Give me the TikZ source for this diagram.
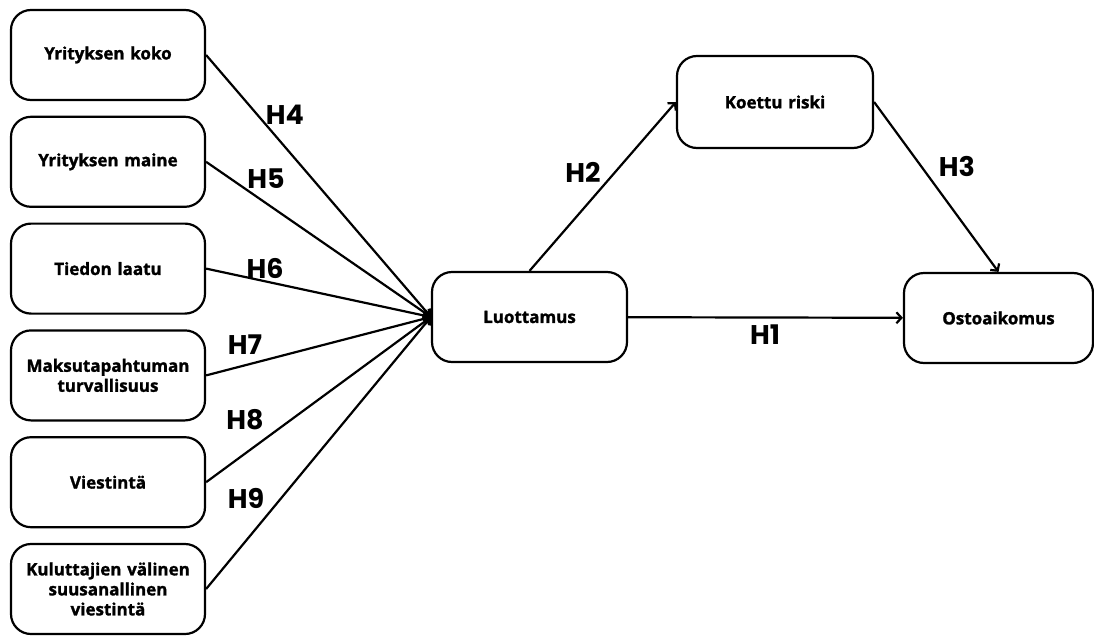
\documentclass[tikz,border=0pt]{standalone}
\usepackage{fontspec}
\setmainfont{Open Sans}[BoldFeatures={FakeBold=1.4}]
\newfontfamily\hfont{Poppins}
\usetikzlibrary{arrows.meta}

\begin{document}
\begin{tikzpicture}[x=1pt,y=-1pt,->,>={Straight Barb[length=5pt,width=11pt]},line width=2.2pt,node distance=106.8pt,
  box/.style={draw,rounded corners=20pt,minimum width=194pt,minimum height=90pt,text width=180pt,align=center,font=\fontsize{17}{20}\selectfont\bfseries},
  hyp/.style={font=\hfont\fontsize{27}{27}\selectfont\bfseries}]

\useasboundingbox (0,0) rectangle (1094,637);

\node[box] (koko) at (108,55) {Yrityksen koko};
\node[box] (maine) [below of=koko] {Yrityksen maine};
\node[box] (laatu) [below of=maine] {Tiedon laatu};
\node[box] (maksu) [below of=laatu] {Maksutapahtuman\\turvallisuus};
\node[box] (viesti) [below of=maksu] {Viestintä};
\node[box] (kulutt) [below of=viesti] {Kuluttajien välinen\\suusanallinen\\viestintä};

\node[box,minimum width=195pt] (luott) at (529.5,317) {Luottamus};
\node[box,minimum width=196pt,minimum height=92pt] (koettu) at (775,102) {Koettu riski};
\node[box,minimum width=189pt,text width=175pt] (osto) at (998.5,318) {Ostoaikomus};

\node[hyp] (h1) at (765,335) {H1};
\node[hyp] (h2) at (583,172) {H2};
\node[hyp] (h3) at (957,166) {H3};
\node[hyp] (h4) at (285,115) {H4};
\node[hyp] (h5) at (266,179) {H5};
\node[hyp] (h6) at (265,268) {H6};
\node[hyp] (h7) at (245,345) {H7};
\node[hyp] (h8) at (245,420) {H8};
\node[hyp] (h9) at (246,498) {H9};

\path
(koko.east) edge (luott.west)
(maine.east) edge (luott.west)
(laatu.east) edge (luott.west)
(maksu.east) edge (luott.west)
(viesti.east) edge (luott.west)
(kulutt.east) edge (luott.west)
(luott) edge (osto)
(luott.north) edge (koettu.west)
(koettu.east) edge (osto.north);
\end{tikzpicture}
\end{document}
